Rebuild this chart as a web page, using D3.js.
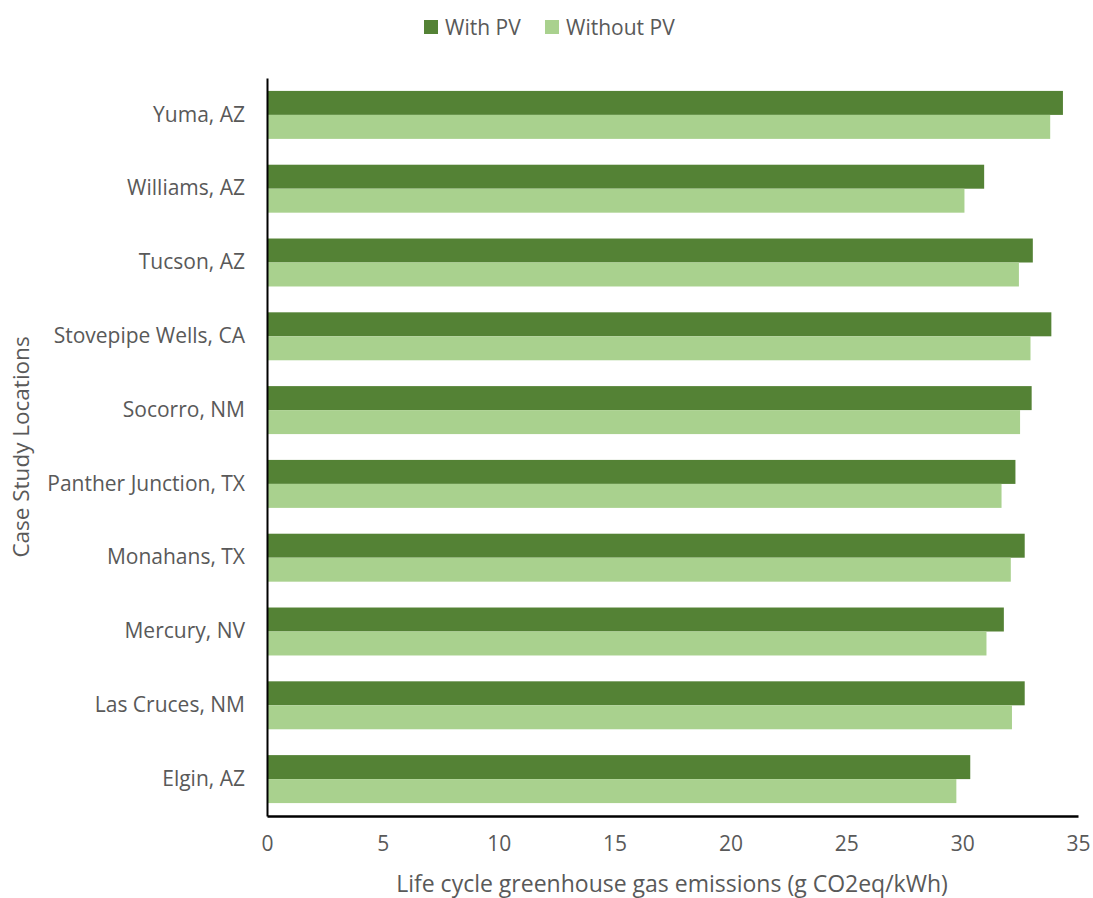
<!DOCTYPE html>
<html>
<head>
<meta charset="utf-8">
<script src="https://cdn.jsdelivr.net/npm/d3@7"></script>
<style>
  body { margin: 0; background: #fff; }
  text { font-family: "Open Sans", "Noto Sans", sans-serif; fill: #595959; }
</style>
</head>
<body>
<svg id="chart" width="1093" height="898"></svg>
<script>
// Case study locations, listed top to bottom
const locations = [
  "Yuma, AZ", "Williams, AZ", "Tucson, AZ", "Stovepipe Wells, CA", "Socorro, NM",
  "Panther Junction, TX", "Monahans, TX", "Mercury, NV", "Las Cruces, NM", "Elgin, AZ"
];
// Life cycle GHG emissions, g CO2eq/kWh
const withPV    = [34.35, 30.95, 33.05, 33.85, 33.0, 32.3, 32.7, 31.8, 32.7, 30.35];
const withoutPV = [33.8, 30.1, 32.45, 32.95, 32.5, 31.7, 32.1, 31.05, 32.15, 29.75];
const xTicks = [0, 5, 10, 15, 20, 25, 30, 35];
const seriesNames = ["With PV", "Without PV"];
const seriesColors = ["#548235", "#A9D18E"];

const svg = d3.select("#chart");
const margin = { left: 267, right: 1078, top: 78, bottom: 816 };

const x = d3.scaleLinear().domain([0, 35]).range([margin.left, margin.right]);
const y = d3.scaleBand().domain(locations).range([margin.top, margin.bottom])
  .paddingInner(0.35).paddingOuter(0.175);
const sub = d3.scaleBand().domain(seriesNames).range([0, y.bandwidth()]);

const rows = locations.map((loc, i) => ({ loc, vals: [withPV[i], withoutPV[i]] }));

// Bars
const g = svg.append("g");
rows.forEach(r => {
  r.vals.forEach((v, j) => {
    g.append("rect")
      .attr("x", x(0))
      .attr("y", y(r.loc) + sub(seriesNames[j]))
      .attr("width", x(v) - x(0))
      .attr("height", sub.bandwidth())
      .attr("fill", seriesColors[j]);
  });
});

// Y axis (category labels, no ticks)
const yAxis = svg.append("g").attr("transform", `translate(${margin.left},0)`)
  .call(d3.axisLeft(y).tickSize(0).tickPadding(22));
yAxis.select(".domain").attr("stroke", "#000").attr("stroke-width", 2);
yAxis.selectAll("text").style("font-size", "21px").attr("fill", "#595959");

// X axis
const xAxis = svg.append("g").attr("transform", `translate(0,${margin.bottom})`)
  .call(d3.axisBottom(x).tickValues(xTicks).tickSize(0).tickPadding(20));
xAxis.select(".domain").attr("stroke", "#000").attr("stroke-width", 2.5);
xAxis.selectAll("text").style("font-size", "21px").attr("fill", "#595959");

// Axis titles
svg.append("text")
  .attr("x", 672).attr("y", 892)
  .attr("text-anchor", "middle").style("font-size", "23px")
  .text("Life cycle greenhouse gas emissions (g CO2eq/kWh)");

svg.append("text")
  .attr("transform", `translate(29,${(margin.top + margin.bottom) / 2}) rotate(-90)`)
  .attr("text-anchor", "middle").style("font-size", "22.5px")
  .text("Case Study Locations");

// Legend
const legend = svg.append("g");
const legendX = [424, 545];
seriesNames.forEach((name, j) => {
  legend.append("rect").attr("x", legendX[j]).attr("y", 20).attr("width", 14).attr("height", 14)
    .attr("fill", seriesColors[j]);
  legend.append("text").attr("x", legendX[j] + 21).attr("y", 35)
    .style("font-size", "21px").text(name);
});
</script>
</body>
</html>
